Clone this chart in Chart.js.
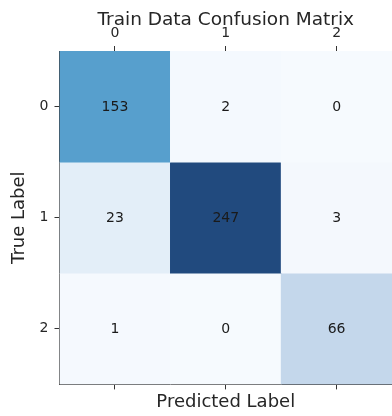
<!DOCTYPE html>
<html>
<head>
<meta charset="utf-8">
<script src="https://cdn.jsdelivr.net/npm/chart.js@4/dist/chart.umd.min.js"></script>
<style>
  html, body { margin: 0; padding: 0; background: #ffffff; overflow: hidden; }
  #wrap { width: 392px; height: 416px; }
</style>
</head>
<body>
<div id="wrap"><canvas id="cm" width="392" height="416"></canvas></div>
<script>
// Class names shown on both axes
const predictedLabels = ['0', '1', '2'];
const trueLabels = [0, 1, 2];

// Confusion counts, one array per true label (columns = predicted label)
const trueLabel0Counts = [153, 2, 0];
const trueLabel1Counts = [23, 247, 3];
const trueLabel2Counts = [1, 0, 66];
const countRows = [trueLabel0Counts, trueLabel1Counts, trueLabel2Counts];

const maxCount = Math.max(...countRows.flat());

// Sequential blue colour scale (fraction of max -> colour)
const blueStops = [
  [0.00, [246, 250, 254]],
  [0.10, [226, 237, 248]],
  [0.27, [195, 215, 235]],
  [0.62, [87, 159, 205]],
  [1.00, [33, 74, 126]]
];
function blueScale(v) {
  const t = Math.max(0, Math.min(1, v / maxCount));
  for (let i = 1; i < blueStops.length; i++) {
    const [t1, c1] = blueStops[i];
    const [t0, c0] = blueStops[i - 1];
    if (t <= t1) {
      const f = (t - t0) / (t1 - t0);
      const c = c0.map((a, k) => Math.round(a + (c1[k] - a) * f));
      return `rgb(${c[0]},${c[1]},${c[2]})`;
    }
  }
  const c = blueStops[blueStops.length - 1][1];
  return `rgb(${c[0]},${c[1]},${c[2]})`;
}

// Each row becomes a dataset of floating bars spanning one cell height
const datasets = countRows.map((row, r) => ({
  label: 'True ' + trueLabels[r],
  data: row.map(() => [trueLabels[r] - 0.5, trueLabels[r] + 0.5]),
  backgroundColor: row.map(blueScale),
  borderWidth: 0,
  barPercentage: 1.0,
  categoryPercentage: 1.0,
  grouped: false,
  xAxisID: 'x',
  yAxisID: 'y'
}));

const FONT = "'DejaVu Sans', sans-serif";
const TEXT = '#262626';

// Writes the count in the centre of each cell
const cellText = {
  id: 'cellText',
  afterDatasetsDraw(chart) {
    const { ctx, scales } = chart;
    ctx.save();
    ctx.font = `14px ${FONT}`;
    ctx.fillStyle = '#1a1a1a';
    ctx.textAlign = 'center';
    ctx.textBaseline = 'middle';
    countRows.forEach((row, r) => {
      row.forEach((v, c) => {
        const x = scales.x.getPixelForValue(c);
        const y = scales.y.getPixelForValue(trueLabels[r]);
        ctx.fillText(String(v), x, y + 1);
      });
    });
    ctx.restore();
  }
};

const tickGrid = {
  display: true,
  offset: false,
  drawOnChartArea: false,
  drawTicks: true,
  tickLength: 5,
  tickColor: '#333333'
};

new Chart(document.getElementById('cm'), {
  type: 'bar',
  data: { labels: predictedLabels, datasets },
  options: {
    responsive: false,
    animation: false,
    devicePixelRatio: 1,
    layout: { padding: { left: 8.5, right: 0, top: 0, bottom: 0 } },
    plugins: {
      legend: { display: false },
      tooltip: { enabled: false },
      title: {
        display: true,
        fullSize: false,
        text: 'Train Data Confusion Matrix',
        color: TEXT,
        font: { family: FONT, size: 18.5, weight: 'normal' },
        padding: { top: 9, bottom: -10 }
      }
    },
    scales: {
      x: {
        type: 'category',
        position: 'top',
        offset: true,
        grid: tickGrid,
        border: { display: true, color: '#333333', width: 1 },
        ticks: { color: TEXT, font: { family: FONT, size: 14 }, padding: 4, maxRotation: 0 }
      },
      x2: {
        type: 'category',
        position: 'bottom',
        offset: true,
        grid: tickGrid,
        border: { display: true, color: '#333333', width: 1 },
        ticks: { display: false },
        title: {
          display: true,
          text: 'Predicted Label',
          color: TEXT,
          font: { family: FONT, size: 18 },
          padding: { top: 2, bottom: 3 }
        }
      },
      y: {
        type: 'linear',
        reverse: true,
        min: -0.5,
        max: 2.5,
        afterBuildTicks(scale) {
          scale.ticks = trueLabels.map(v => ({ value: v }));
        },
        grid: tickGrid,
        border: { display: true, color: '#333333', width: 1 },
        ticks: { color: TEXT, font: { family: FONT, size: 14 }, padding: 6 },
        title: {
          display: true,
          text: 'True Label',
          color: TEXT,
          font: { family: FONT, size: 18 },
          padding: { top: 0, bottom: 3.5 }
        }
      }
    }
  },
  plugins: [cellText]
});
</script>
</body>
</html>
